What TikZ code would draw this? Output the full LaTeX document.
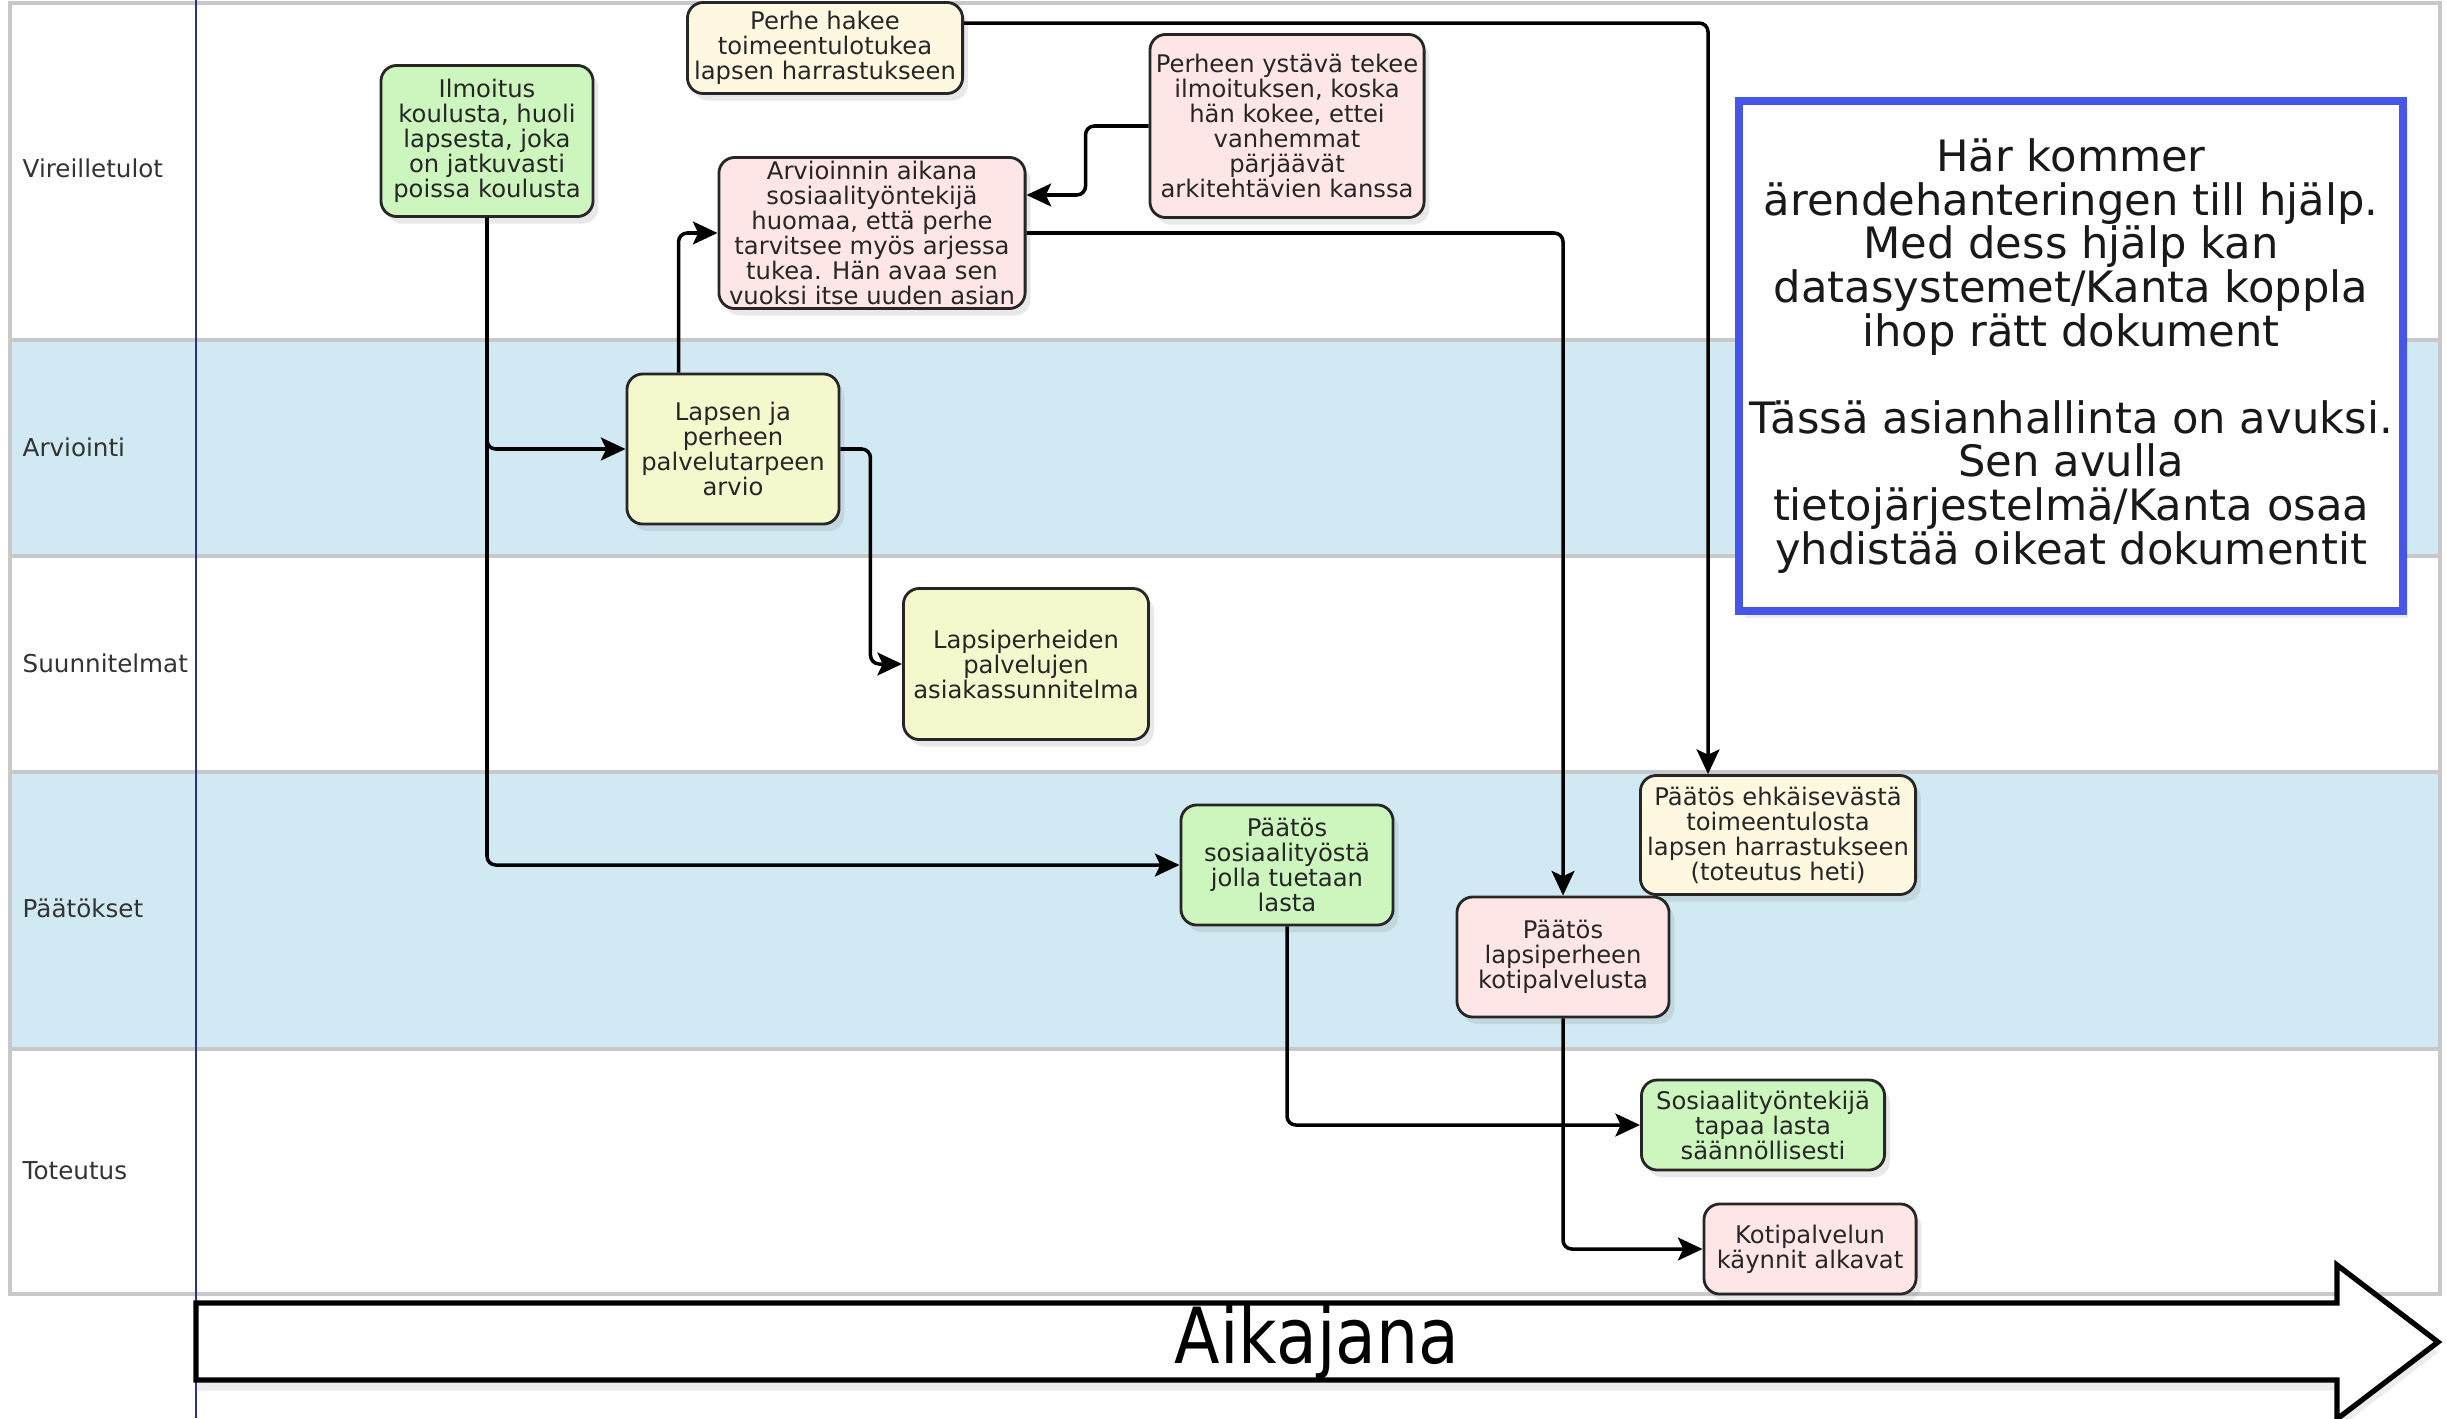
\documentclass[tikz,border=0pt]{standalone}
\usepackage{fontspec}
\setmainfont{DejaVu Sans}
\newfontfamily\aikafont{DejaVu Sans}[FakeStretch=0.86]
\usetikzlibrary{arrows.meta,shadows,calc}
\definecolor{lanebl}{RGB}{209,233,243}
\definecolor{lanegr}{RGB}{200,200,200}
\definecolor{cgreen}{RGB}{205,245,190}
\definecolor{cpink}{RGB}{255,230,230}
\definecolor{ccream}{RGB}{255,248,225}
\definecolor{cyell}{RGB}{245,248,204}
\definecolor{cnote}{RGB}{70,86,232}
\definecolor{cnavy}{RGB}{40,50,140}
\begin{document}
\begin{tikzpicture}[x=0.01cm,y=-0.01cm,
  box/.style={draw=black!85, line width=0.8pt, rounded corners=4.5pt, align=center,
    inner sep=0.5pt, text=black!85, font=\fontsize{6.9}{7.1}\selectfont,
    drop shadow={shadow xshift=1.5pt, shadow yshift=-2pt, opacity=0.18}},
  conn/.style={draw=black, line width=1pt, rounded corners=2.5pt,
    -{Stealth[length=7pt,width=6.5pt,inset=1.5pt]}},
  lanelabel/.style={anchor=west, inner sep=0pt, text=black!80, font=\fontsize{7}{8}\selectfont},
  sep/.style={draw=lanegr, line width=1.2pt}]
\useasboundingbox (0,0) rectangle (2446,1418);
\fill[white] (0,0) rectangle (2446,1418);
% lanes
\fill[lanebl] (10,340) rectangle (2440,556);
\fill[lanebl] (10,772) rectangle (2440,1049);
\draw[sep] (10,3) rectangle (2440,1294);
\draw[sep] (10,340) -- (2440,340);
\draw[sep] (10,556) -- (2440,556);
\draw[sep] (10,772) -- (2440,772);
\draw[sep] (10,1049) -- (2440,1049);
\draw[cnavy, line width=0.5pt] (196,0) -- (196,1418);
% lane labels
\node[lanelabel] (l1) at (22,168) {Vireilletulot};
\node[lanelabel] (l2) at (22,447) {Arviointi};
\node[lanelabel] (l3) at (22,663) {Suunnitelmat};
\node[lanelabel] (l4) at (22,908) {Päätökset};
\node[lanelabel] (l5) at (22,1171) {Toteutus};
% nodes
\node[box, fill=ccream, minimum width=2.75cm, minimum height=0.91cm] (n1) at (825,48)
  {Perhe hakee\\toimeentulotukea\\lapsen harrastukseen};
\node[box, fill=cgreen, minimum width=2.12cm, minimum height=1.51cm] (n2) at (487,141)
  {Ilmoitus\\koulusta, huoli\\lapsesta, joka\\on jatkuvasti\\poissa koulusta};
\node[box, fill=cpink, minimum width=2.74cm, minimum height=1.83cm] (n3) at (1287,126)
  {Perheen ystävä tekee\\ilmoituksen, koska\\hän kokee, ettei\\vanhemmat\\pärjäävät\\arkitehtävien kanssa};
\node[box, fill=cpink, minimum width=3.06cm, minimum height=1.51cm] (n4) at (872,233)
  {Arvioinnin aikana\\sosiaalityöntekijä\\huomaa, että perhe\\tarvitsee myös arjessa\\tukea. Hän avaa sen\\vuoksi itse uuden asian};
\node[box, fill=cyell, minimum width=2.12cm, minimum height=1.50cm] (n5) at (733,449)
  {Lapsen ja\\perheen\\palvelutarpeen\\arvio};
\node[box, fill=cyell, minimum width=2.45cm, minimum height=1.51cm] (n6) at (1026,664)
  {Lapsiperheiden\\palvelujen\\asiakassunnitelma};
\node[box, fill=cgreen, minimum width=2.12cm, minimum height=1.20cm] (n7) at (1287,865)
  {Päätös\\sosiaalityöstä\\jolla tuetaan\\lasta};
\node[box, fill=ccream, minimum width=2.75cm, minimum height=1.19cm] (n8) at (1778,835)
  {Päätös ehkäisevästä\\toimeentulosta\\lapsen harrastukseen\\(toteutus heti)};
\node[box, fill=cpink, minimum width=2.12cm, minimum height=1.20cm] (n9) at (1563,957)
  {Päätös\\lapsiperheen\\kotipalvelusta};
\node[box, fill=cgreen, minimum width=2.43cm, minimum height=0.90cm] (n10) at (1763,1125)
  {Sosiaalityöntekijä\\tapaa lasta\\säännöllisesti};
\node[box, fill=cpink, minimum width=2.12cm, minimum height=0.90cm] (n11) at (1810,1249)
  {Kotipalvelun\\käynnit alkavat};
% note
\node[draw=cnote, line width=2.3pt, fill=white, minimum width=6.63cm, minimum height=5.09cm,
  align=center, inner sep=0pt, text=black!90, font=\fontsize{12.3}{12.4}\selectfont,
  drop shadow={shadow xshift=1.5pt, shadow yshift=-2pt, opacity=0.15}] (note) at (2071,356)
  {Här kommer\\ärendehanteringen till hjälp.\\Med dess hjälp kan\\datasystemet/Kanta koppla\\ihop rätt dokument\\[12.4pt]Tässä asianhallinta on avuksi.\\Sen avulla\\tietojärjestelmä/Kanta osaa\\yhdistää oikeat dokumentit};
% timeline arrow
\draw[line width=1.5pt, fill=white, drop shadow={shadow xshift=0pt, shadow yshift=-3pt, opacity=0.15}]
  (196,1303) -- (2337,1303) -- (2337,1265) -- (2438,1342) -- (2337,1419) -- (2337,1380) -- (196,1380) -- cycle;
\node[inner sep=0pt, font=\aikafont\fontsize{22}{24}\selectfont] (aika) at (1317,1342) {Aikajana};
% connectors
\draw[conn] ($(n1.north east)+(0,22)$) -| ($(n8.north west)+(69,0)$);
\draw[conn] (n2.south) |- (n5.west);
\draw[conn] (n2.south) |- (n7.west);
\draw[conn] ($(n5.north west)+(53,0)$) |- (n4.west);
\draw[conn] (n3.west) -- ++(-63,0) |- ($(n4.east)+(0,-38)$);
\draw[conn] (n4.east) -| (n9.north);
\draw[conn] (n5.east) -- ++(30,0) |- (n6.west);
\draw[conn] (n7.south) |- (n10.west);
\draw[conn] (n9.south) |- (n11.west);
\end{tikzpicture}
\end{document}
